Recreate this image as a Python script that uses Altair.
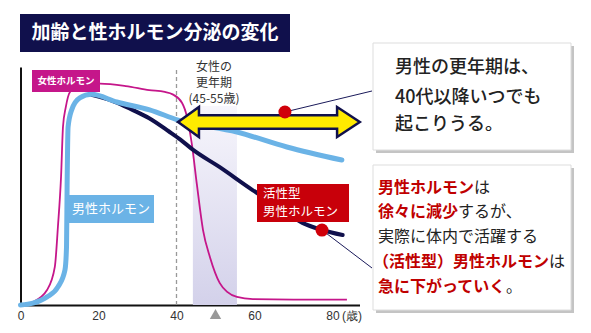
import altair as alt
import pandas as pd

# ---------------- data ----------------
# female hormone (magenta)
age_f = [0, 3.2, 6.8, 8.8, 9.6, 10.4, 10.9, 11.6, 12.7, 16, 20.4, 27, 33, 37, 39, 41.4, 42.7, 43.9, 45.2, 46.8, 48.6, 51.1, 53, 55.5, 59.6, 70, 83.7]
val_f = [0, 1.3, 6.3, 16, 33, 54, 75, 83, 89.5, 92.5, 93, 92, 90.3, 89.5, 88.5, 85, 79, 68, 51, 31.5, 20, 9.2, 5.5, 3.4, 2.5, 2.3, 2.3]
# male hormone (light blue)
age_m = [0, 3.2, 6.8, 9.6, 11.4, 11.8, 11.95, 12.2, 13.1, 15.2, 18.2, 24.7, 33.1, 40.4, 55.5, 68.3, 82.4]
val_m = [0, 0.8, 3.4, 7.6, 14.7, 24.4, 50, 74.8, 81.9, 87, 88.5, 85.3, 82, 77.7, 72.7, 66.4, 60.9]
# active male hormone (navy)
age_a = [18.2, 24, 28.7, 33, 38, 41, 44, 51, 59.5, 66, 72.3, 77.3, 82.6]
val_a = [88.3, 85.5, 82, 78.5, 73, 69.5, 65.5, 58, 48.3, 41.5, 34.5, 31.5, 29.4]
# markers (red dots)
marker_age = [67.8, 77.3]
marker_val = [81.1, 31.5]
# menopause band, dashed 40-line, arrow range
band_age = [44.2, 55.5]
band_top = 83.6
dash_age = 40
arrow_age = [40.4, 87.0]
arrow_val = 76.9
tri_age = 50
x_ticks = [0, 20, 40, 60, 80]

JP = "Noto Sans CJK JP"
NAVY = "#10104c"
MAG = "#c5168a"
BLUE = "#6bb3e6"
RED = "#c8000a"
TRED = "#c00000"
YEL = "#ffea00"

PXA = 3.9          # px per year
W, H = 339, 238
OX, OY = 20.5, 67  # plot origin on page

XS = alt.Scale(domain=[0, W / PXA], nice=False, zero=False)
YS = alt.Scale(domain=[0, 100], nice=False, zero=False)
XAX = alt.Axis(values=x_ticks, ticks=False, grid=False, domainColor="#111", domainWidth=2,
               labelFontSize=12, labelColor="#333", labelPadding=5, labelFont="Liberation Sans",
               title=None, labelFlush=False, labelOverlap=False)
YAX = alt.Axis(labels=False, ticks=False, grid=False, domainColor="#111", domainWidth=2, title=None)


def X(f):
    return alt.X(f, type="quantitative", scale=XS, axis=XAX)


def Y(f):
    return alt.Y(f, type="quantitative", scale=YS, axis=YAX)


one = alt.Data(values=[{"a": 1}])


def T(text, x, y, size, color, weight="normal", align="left", font=JP):
    return alt.Chart(one).mark_text(text=text, fontSize=size, color=color, fontWeight=weight,
                                    align=align, baseline="middle", font=font).encode(
        x=alt.value(x - OX), y=alt.value(y - OY))


def R(x1, y1, x2, y2, fill, stroke=None, sw=0):
    kw = dict(fill=fill, strokeWidth=sw)
    if stroke:
        kw["stroke"] = stroke
    return alt.Chart(one).mark_rect(**kw).encode(
        x=alt.value(x1 - OX), x2=alt.value(x2 - OX), y=alt.value(y1 - OY), y2=alt.value(y2 - OY))


df_f = pd.DataFrame({"age": age_f, "v": val_f})
df_m = pd.DataFrame({"age": age_m, "v": val_m})
df_a = pd.DataFrame({"age": age_a, "v": val_a})
df_mk = pd.DataFrame({"age": marker_age, "v": marker_val})

layers = []

# band
band = alt.Chart(pd.DataFrame({"a0": [band_age[0]], "a1": [band_age[1]], "v0": [0], "v1": [band_top]})).mark_rect(
    fill=alt.Gradient(gradient="linear",
                      stops=[alt.GradientStop(color="#f7f6fc", offset=0),
                             alt.GradientStop(color="#d3d1ea", offset=1)],
                      x1=0, x2=0, y1=0, y2=1)
).encode(x=X("a0"), x2="a1", y=Y("v0"), y2="v1")
layers.append(band)

# dashed 40 line
dash = alt.Chart(pd.DataFrame({"age": [dash_age], "v0": [0], "v1": [100]})).mark_rule(
    color="#999", strokeDash=[4, 3], strokeWidth=1.3).encode(x=X("age"), y=Y("v0"), y2="v1")
layers.append(dash)

# curves
layers.append(alt.Chart(df_f).mark_line(color=MAG, strokeWidth=1.8, interpolate="monotone").encode(x=X("age"), y=Y("v")))
layers.append(alt.Chart(df_a).mark_line(color=NAVY, strokeWidth=4, interpolate="monotone", strokeCap="round").encode(x=X("age"), y=Y("v")))
layers.append(alt.Chart(df_m).mark_line(color=BLUE, strokeWidth=5, interpolate="monotone", strokeCap="round").encode(x=X("age"), y=Y("v")))

# curve label boxes
layers.append(R(32, 70, 100, 92, MAG))
layers.append(T("女性ホルモン", 66, 81, 9.5, "white", "bold", "center"))
layers.append(R(68, 195, 154, 223, BLUE))
layers.append(T("男性ホルモン", 111, 209, 13, "white", "normal", "center"))

# double arrow
span_px = (arrow_age[1] - arrow_age[0]) * PXA
arrow_path = ("M-1,0 L-0.77,-0.165 L-0.77,-0.075 L0.75,-0.075 L0.75,-0.165 L1,0 "
              "L0.75,0.165 L0.75,0.075 L-0.77,0.075 L-0.77,0.165 Z")
arrow = alt.Chart(pd.DataFrame({"age": [(arrow_age[0] + arrow_age[1]) / 2], "v": [arrow_val]})).mark_point(
    shape=arrow_path, size=span_px ** 2, filled=True, fill=YEL, stroke=NAVY, strokeWidth=2.5, opacity=1
).encode(x=X("age"), y=Y("v"))
layers.append(arrow)

# active hormone label box
layers.append(R(257, 184, 349, 222, RED))
layers.append(T("活性型", 263, 194, 12.5, "white"))
layers.append(T("男性ホルモン", 263, 212, 12.5, "white"))

# connectors
conn_end_x = [372 - OX, 372 - OX]
conn_end_y = [91 - OY, 268 - OY]
for i in range(2):
    layers.append(alt.Chart(pd.DataFrame({"age": [marker_age[i]], "v": [marker_val[i]]})).mark_rule(
        color="#1a1a5a", strokeWidth=1).encode(
        x=X("age"), y=Y("v"), x2=alt.value(conn_end_x[i]), y2=alt.value(conn_end_y[i])))

# red dots
layers.append(alt.Chart(df_mk).mark_point(shape="circle", size=169, filled=True, color="#d0000a", opacity=1).encode(
    x=X("age"), y=Y("v")))

# triangle under axis
layers.append(alt.Chart(pd.DataFrame({"age": [tri_age]})).mark_point(
    shape="triangle-up", size=130, filled=True, color="#999", opacity=1).encode(x=X("age"), y=alt.value(314 - OY)))
layers.append(T("(歳)", 352, 316, 12, "#333", align="center", font="Liberation Sans"))

# band label
layers.append(T("女性の", 214, 67, 12, "#333", align="center"))
layers.append(T("更年期", 214, 83, 12, "#333", align="center"))
layers.append(T("(45-55歳)", 214, 99, 12, "#333", align="center"))

# title
layers.append(R(20, 14, 290, 52, NAVY))
layers.append(T("加齢と性ホルモン分泌の変化", 155, 33, 19, "white", "bold", "center"))

# callout box 1
layers.append(R(376, 46, 574, 153, "#c4c4c4"))
layers.append(R(373, 43, 571, 150, "white", "#dddddd", 1))
layers.append(T("男性の更年期は、", 395, 67.5, 18, "#222", 500))
layers.append(T("40代以降いつでも", 395, 97.5, 18, "#222", 500))
layers.append(T("起こりうる。", 395, 124.5, 18, "#222", 500))

# callout box 2
layers.append(R(376, 168, 574, 313, "#c4c4c4"))
layers.append(R(373, 165, 571, 310, "white", "#dddddd", 1))
fs = 16
lines2 = [
    (188, 378, [("男性ホルモン", TRED, "bold"), ("は", "#222", "normal")]),
    (212, 378, [("徐々に減少", TRED, "bold"), ("するが、", "#222", "normal")]),
    (237, 378, [("実際に体内で活躍する", "#222", "normal")]),
    (262, 373, [("（活性型）男性ホルモン", TRED, "bold"), ("は", "#222", "normal")]),
    (287, 378, [("急に下がっていく", TRED, "bold"), ("。", "#222", "normal")]),
]
for yy, x0, parts in lines2:
    xx = x0
    for txt, col, wt in parts:
        layers.append(T(txt, xx, yy, fs, col, wt))
        xx += len(txt) * fs

chart = alt.layer(*layers).properties(
    width=W, height=H,
    autosize=alt.AutoSizeParams(type="none"),
    padding={"left": OX, "top": OY, "right": 591 - OX - W, "bottom": 333 - OY - H},
    background="white",
).configure_view(stroke=None)

chart.save("out.html", embed_options={"renderer": "svg", "actions": False})
